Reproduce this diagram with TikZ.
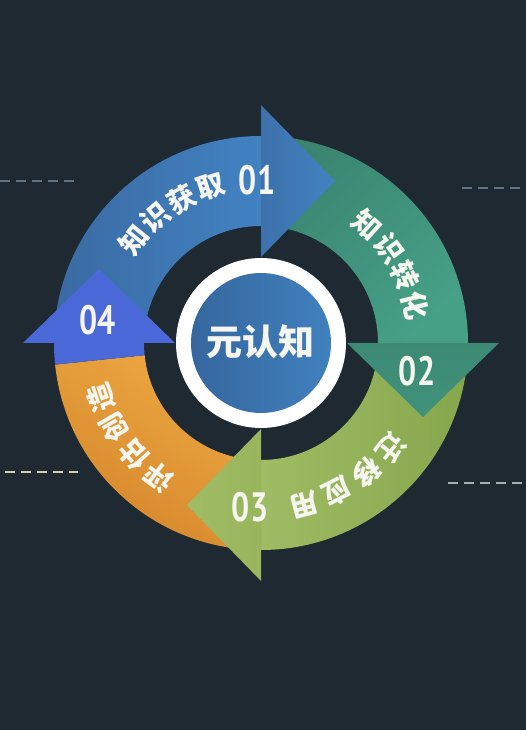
\documentclass[tikz,border=0pt]{standalone}
\usepackage{fontspec}
\newfontfamily\cjk{Noto Sans CJK SC}
\newfontfamily\numf{PT Sans}
\usetikzlibrary{calc}
\definecolor{bg}{HTML}{1F2932}
\definecolor{blueA}{HTML}{3A6AA2}
\definecolor{blueB}{HTML}{4282C2}
\definecolor{greenA}{HTML}{3A8470}
\definecolor{greenB}{HTML}{46A086}
\definecolor{oliveA}{HTML}{A0BC64}
\definecolor{oliveB}{HTML}{86A64C}
\definecolor{orangeA}{HTML}{EDA842}
\definecolor{orangeB}{HTML}{D5862B}
\definecolor{royal}{HTML}{4A68D8}
\definecolor{centerA}{HTML}{36679E}
\definecolor{centerB}{HTML}{4080BE}
\definecolor{dashblue}{HTML}{5C7486}
\definecolor{dashcream}{HTML}{D6CEB0}
\definecolor{dashgray}{HTML}{A6ADAD}
\definecolor{txt}{HTML}{F6F6F0}
\begin{document}
\begin{tikzpicture}[
  ch/.style={text=txt, font=\cjk\bfseries\fontsize{28}{28}\selectfont, inner sep=0pt},
  num/.style={text=txt, font=\numf\bfseries\fontsize{41}{41}\selectfont, inner sep=0pt, xscale=0.78},
  guide/.style={dash pattern=on 10pt off 6pt, line width=1.8pt},
]
% background and bounding box
\fill[bg] (-261pt,-387pt) rectangle (265pt,343pt);
\useasboundingbox (-261pt,-387pt) rectangle (265pt,343pt);

% dashed guides
\coordinate (g1a) at (-261pt,162pt); \coordinate (g1b) at (-183pt,162pt);
\coordinate (g2a) at (201pt,155pt);  \coordinate (g2b) at (265pt,155pt);
\coordinate (g3a) at (-256pt,-129pt); \coordinate (g3b) at (-183pt,-129pt);
\coordinate (g4a) at (187pt,-140pt); \coordinate (g4b) at (265pt,-140pt);
\draw[guide, dashblue] (g1a) -- (g1b);
\draw[guide, dashblue] (g2a) -- (g2b);
\draw[guide, dashcream] (g3a) -- (g3b);
\draw[guide, dashgray] (g4a) -- (g4b);

% arrow bodies
\shade[left color=blueA, right color=blueB]
  (180:207pt) arc[start angle=180, end angle=90, radius=207pt]
  -- (90:117pt) arc[start angle=90, end angle=180, radius=117pt] -- cycle;
\shade[top color=greenA, bottom color=greenB, shading angle=45]
  (90:207pt) arc[start angle=90, end angle=0, radius=207pt]
  -- (0:117pt) arc[start angle=0, end angle=90, radius=117pt] -- cycle;
\shade[left color=oliveA, right color=oliveB]
  (0:207pt) arc[start angle=0, end angle=-90, radius=207pt]
  -- (-90:117pt) arc[start angle=-90, end angle=0, radius=117pt] -- cycle;
\shade[top color=orangeA, bottom color=orangeB, shading angle=-30]
  (270:207pt) arc[start angle=270, end angle=186, radius=207pt]
  -- (186:117pt) arc[start angle=186, end angle=270, radius=117pt] -- cycle;
\fill[royal]
  (186:207pt) arc[start angle=186, end angle=180, radius=207pt]
  -- (180:117pt) arc[start angle=180, end angle=186, radius=117pt] -- cycle;

% arrow heads
\shade[left color=blueA!70!blueB, right color=blueB] (90:86pt) -- (90:238pt) -- (74pt,162pt) -- cycle;
\shade[top color=greenA!80!greenB, bottom color=greenA!50!greenB] (0:86pt) -- (0:238pt) -- (162pt,-74pt) -- cycle;
\shade[left color=oliveA, right color=oliveA!70!oliveB] (-90:86pt) -- (-90:238pt) -- (-74pt,-162pt) -- cycle;
\fill[royal] (180:86pt) -- (180:238pt) -- (-162pt,74pt) -- cycle;

% centre
\fill[white] (0,0) circle[radius=85pt];
\shade[left color=centerA, right color=centerB] (0,0) circle[radius=70pt];
\node[text=txt, font=\cjk\bfseries\fontsize{36}{36}\selectfont, inner sep=0pt] (core) at (-1pt,1pt) {元认知};

% quadrant 1
\node[ch, rotate=51] (q1a) at (141:164pt) {知};
\node[ch, rotate=40] (q1b) at (130:164pt) {识};
\node[ch, rotate=29] (q1c) at (119:164pt) {获};
\node[ch, rotate=18] (q1d) at (108:164pt) {取};
\node[num] (n1) at (-4pt,163pt) {01};
% quadrant 2
\node[ch, rotate=-42] (q2a) at (48:159pt) {知};
\node[ch, rotate=-53.5] (q2b) at (36.5:159pt) {识};
\node[ch, rotate=-65] (q2c) at (25:159pt) {转};
\node[ch, rotate=-76.5] (q2d) at (13.5:159pt) {化};
\node[num] (n2) at (156pt,-28pt) {02};
% quadrant 3
\node[ch, rotate=-129] (q3a) at (-39:167pt) {迁};
\node[ch, rotate=-141] (q3b) at (-51:167pt) {移};
\node[ch, rotate=-153] (q3c) at (-63:167pt) {应};
\node[ch, rotate=-165] (q3d) at (-75:167pt) {用};
\node[num] (n3) at (-11pt,-164pt) {03};
% quadrant 4
\node[ch, rotate=143] (q4a) at (233:169pt) {评};
\node[ch, rotate=131.5] (q4b) at (221.5:169pt) {估};
\node[ch, rotate=120] (q4c) at (210:169pt) {创};
\node[ch, rotate=109] (q4d) at (199:169pt) {造};
\node[num] (n4) at (-163pt,23pt) {04};
\end{tikzpicture}
\end{document}
